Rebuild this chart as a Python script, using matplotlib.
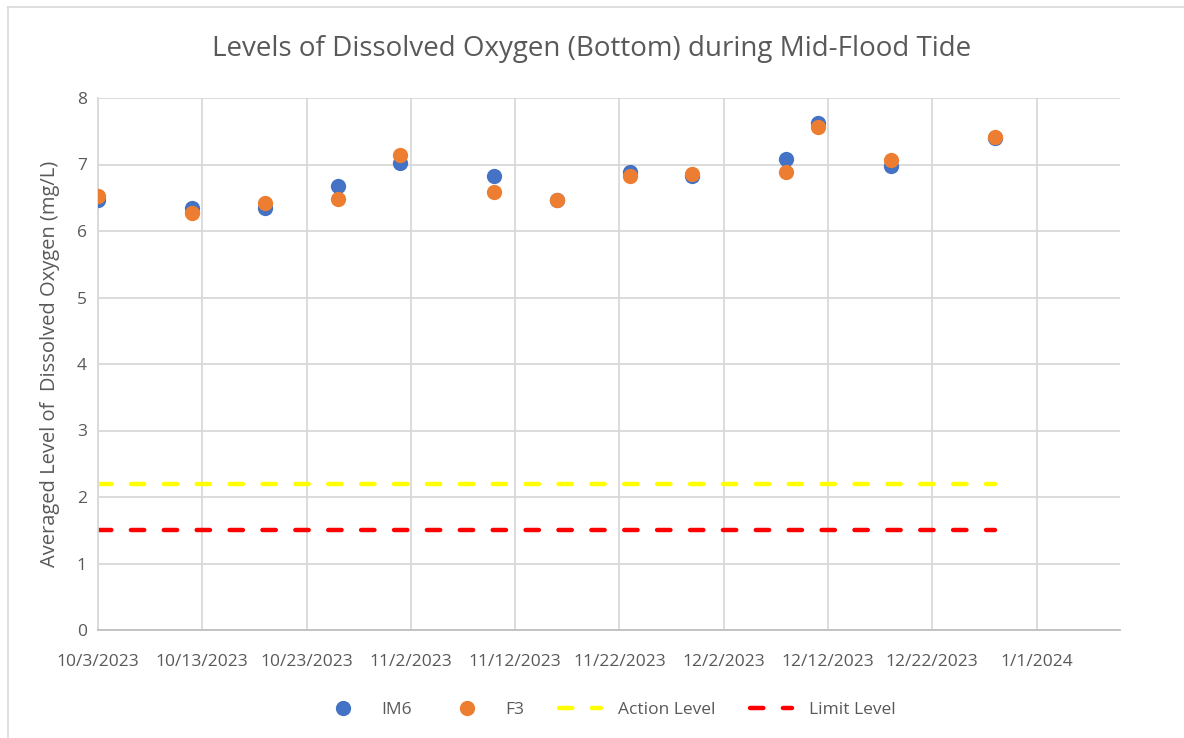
import numpy as np
import pandas as pd
import matplotlib.pyplot as plt
from matplotlib.lines import Line2D

dates = pd.to_datetime(['2023-10-03', '2023-10-12', '2023-10-19', '2023-10-26', '2023-11-01',
                        '2023-11-10', '2023-11-16', '2023-11-23', '2023-11-29', '2023-12-08',
                        '2023-12-11', '2023-12-18', '2023-12-28'])
im6 = [6.47, 6.35, 6.35, 6.68, 7.03, 6.82, 6.46, 6.88, 6.82, 7.09, 7.63, 6.98, 7.40]
f3 = [6.52, 6.27, 6.42, 6.48, 7.14, 6.58, 6.47, 6.83, 6.86, 6.89, 7.57, 7.07, 7.42]
action_level = 2.2
limit_level = 1.5

txt = '#595959'
grid = '#d9d9d9'
plt.rcParams['font.family'] = ['Open Sans', 'DejaVu Sans']

fig = plt.figure(figsize=(11.84, 7.38), dpi=100)
ax = fig.add_axes([98 / 1184, 108 / 738, 1022 / 1184, 532 / 738])

# outer chart border (cropped on right/bottom)
fig.add_artist(Line2D([8 / 1184, 8 / 1184], [0, 731 / 738], color=grid, lw=1.2))
fig.add_artist(Line2D([8 / 1184, 1], [731 / 738, 731 / 738], color=grid, lw=1.2))

ax.plot(dates, im6, 'o', color='#4472c4', ms=11, mec='none', label='IM6', zorder=3)
ax.plot(dates, f3, 'o', color='#ed7d31', ms=11, mec='none', label='F3', zorder=4)
ax.plot([dates[0], dates[-1]], [action_level] * 2, color='#ffff00', lw=3.2,
        dashes=(3.0, 4.4), dash_capstyle='round', label='Action Level', zorder=2)
ax.plot([dates[0], dates[-1]], [limit_level] * 2, color='#ff0000', lw=3.2,
        dashes=(3.0, 4.4), dash_capstyle='round', label='Limit Level', zorder=2)

start = pd.Timestamp('2023-10-03')
ax.set_xlim(start, start + pd.Timedelta(days=98))
ax.set_ylim(0, 8)
ticks = [start + pd.Timedelta(days=10 * i) for i in range(10)]
ax.set_xticks(ticks)
ax.set_xticklabels([f'{t.month}/{t.day}/{t.year}' for t in ticks])
ax.set_yticks(range(0, 9))

ax.grid(True, color=grid, lw=1.3)
ax.set_axisbelow(True)
for s in ['top', 'right']:
    ax.spines[s].set_visible(False)
ax.spines['left'].set_color(grid)
ax.spines['bottom'].set_color('#bfbfbf')
ax.spines['left'].set_linewidth(1.3)
ax.spines['bottom'].set_linewidth(1.3)
ax.tick_params(length=0, colors=txt, labelsize=12.5, pad=8)
ax.tick_params(axis='x', pad=17)

ax.set_ylabel('Averaged Level of  Dissolved Oxygen (mg/L)', color=txt, fontsize=14.5, labelpad=12)
fig.suptitle('Levels of Dissolved Oxygen (Bottom) during Mid-Flood Tide', color=txt,
             fontsize=20, y=0.952)

ax.legend(loc='upper center', bbox_to_anchor=(0.5, -0.105), ncol=4, frameon=False,
          fontsize=12.5, labelcolor=txt, handlelength=2.4, columnspacing=2.0, handletextpad=1.0)

fig.savefig('out.png', dpi=100)
